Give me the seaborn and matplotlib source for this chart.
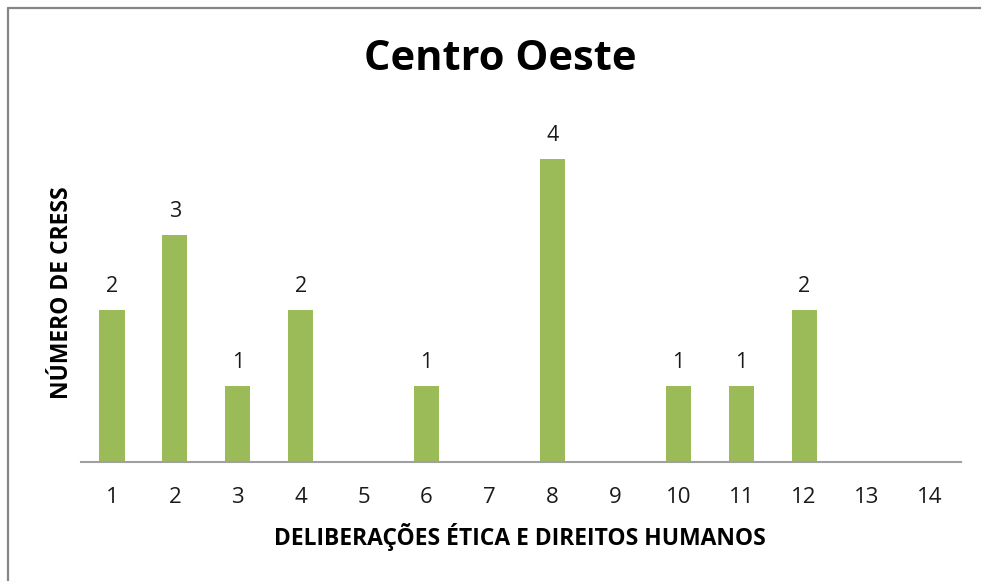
import matplotlib
matplotlib.use("Agg")
import matplotlib.pyplot as plt
from matplotlib.lines import Line2D
import seaborn as sns
import pandas as pd

categories = [str(i) for i in range(1, 15)]
values = [2, 3, 1, 2, 0, 1, 0, 4, 0, 1, 1, 2, 0, 0]
title = "Centro Oeste"
xlabel = "DELIBERAÇÕES ÉTICA E DIREITOS HUMANOS"
ylabel = "NÚMERO DE CRESS"

df = pd.DataFrame({"cat": categories, "val": values})

sns.set_theme(style="white")
plt.rcParams['font.family'] = ['Open Sans', 'DejaVu Sans']

fig = plt.figure(figsize=(9.81, 5.81), dpi=100)
ax = fig.add_axes([80.5 / 981, 1 - 462 / 581, (961.5 - 80.5) / 981, (462 - 83) / 581])

sns.barplot(data=df, x="cat", y="val", color="#9BBB59", width=0.40,
            saturation=1, ax=ax, edgecolor="none")

ax.set_xlim(-0.5, 13.5)
ax.set_ylim(0, 5)
ax.set_yticks([])
ax.set_xlabel("")
ax.set_ylabel("")
for s in ["top", "right", "left"]:
    ax.spines[s].set_visible(False)
ax.spines["bottom"].set_color("#A0A0A0")
ax.spines["bottom"].set_linewidth(1.5)
ax.tick_params(axis="x", length=0, labelsize=16, pad=18, colors="#1a1a1a")

for i, v in enumerate(values):
    if v > 0:
        ax.annotate(str(v), (i, v), xytext=(0, 13), textcoords="offset points",
                    ha="center", va="baseline", fontsize=15.5, color="#1a1a1a")

fig.text(500 / 981, 1 - 60 / 581, title, ha="center", va="center",
         fontsize=30, fontweight="bold", color="black")
fig.text(520 / 981, 1 - 537 / 581, xlabel, ha="center", va="center",
         fontsize=16.5, fontweight="bold", color="black")
fig.text(62 / 981, 1 - 293 / 581, ylabel, ha="center", va="center",
         rotation=90, fontsize=16.5, fontweight="bold", color="black")

# outer chart border (left and top visible)
fig.add_artist(Line2D([8 / 981, 8 / 981], [0, 1 - 8 / 581], transform=fig.transFigure,
                      color="#868686", linewidth=1.6))
fig.add_artist(Line2D([8 / 981, 1], [1 - 8 / 581, 1 - 8 / 581], transform=fig.transFigure,
                      color="#868686", linewidth=1.6))

fig.savefig("out.png", dpi=100)
